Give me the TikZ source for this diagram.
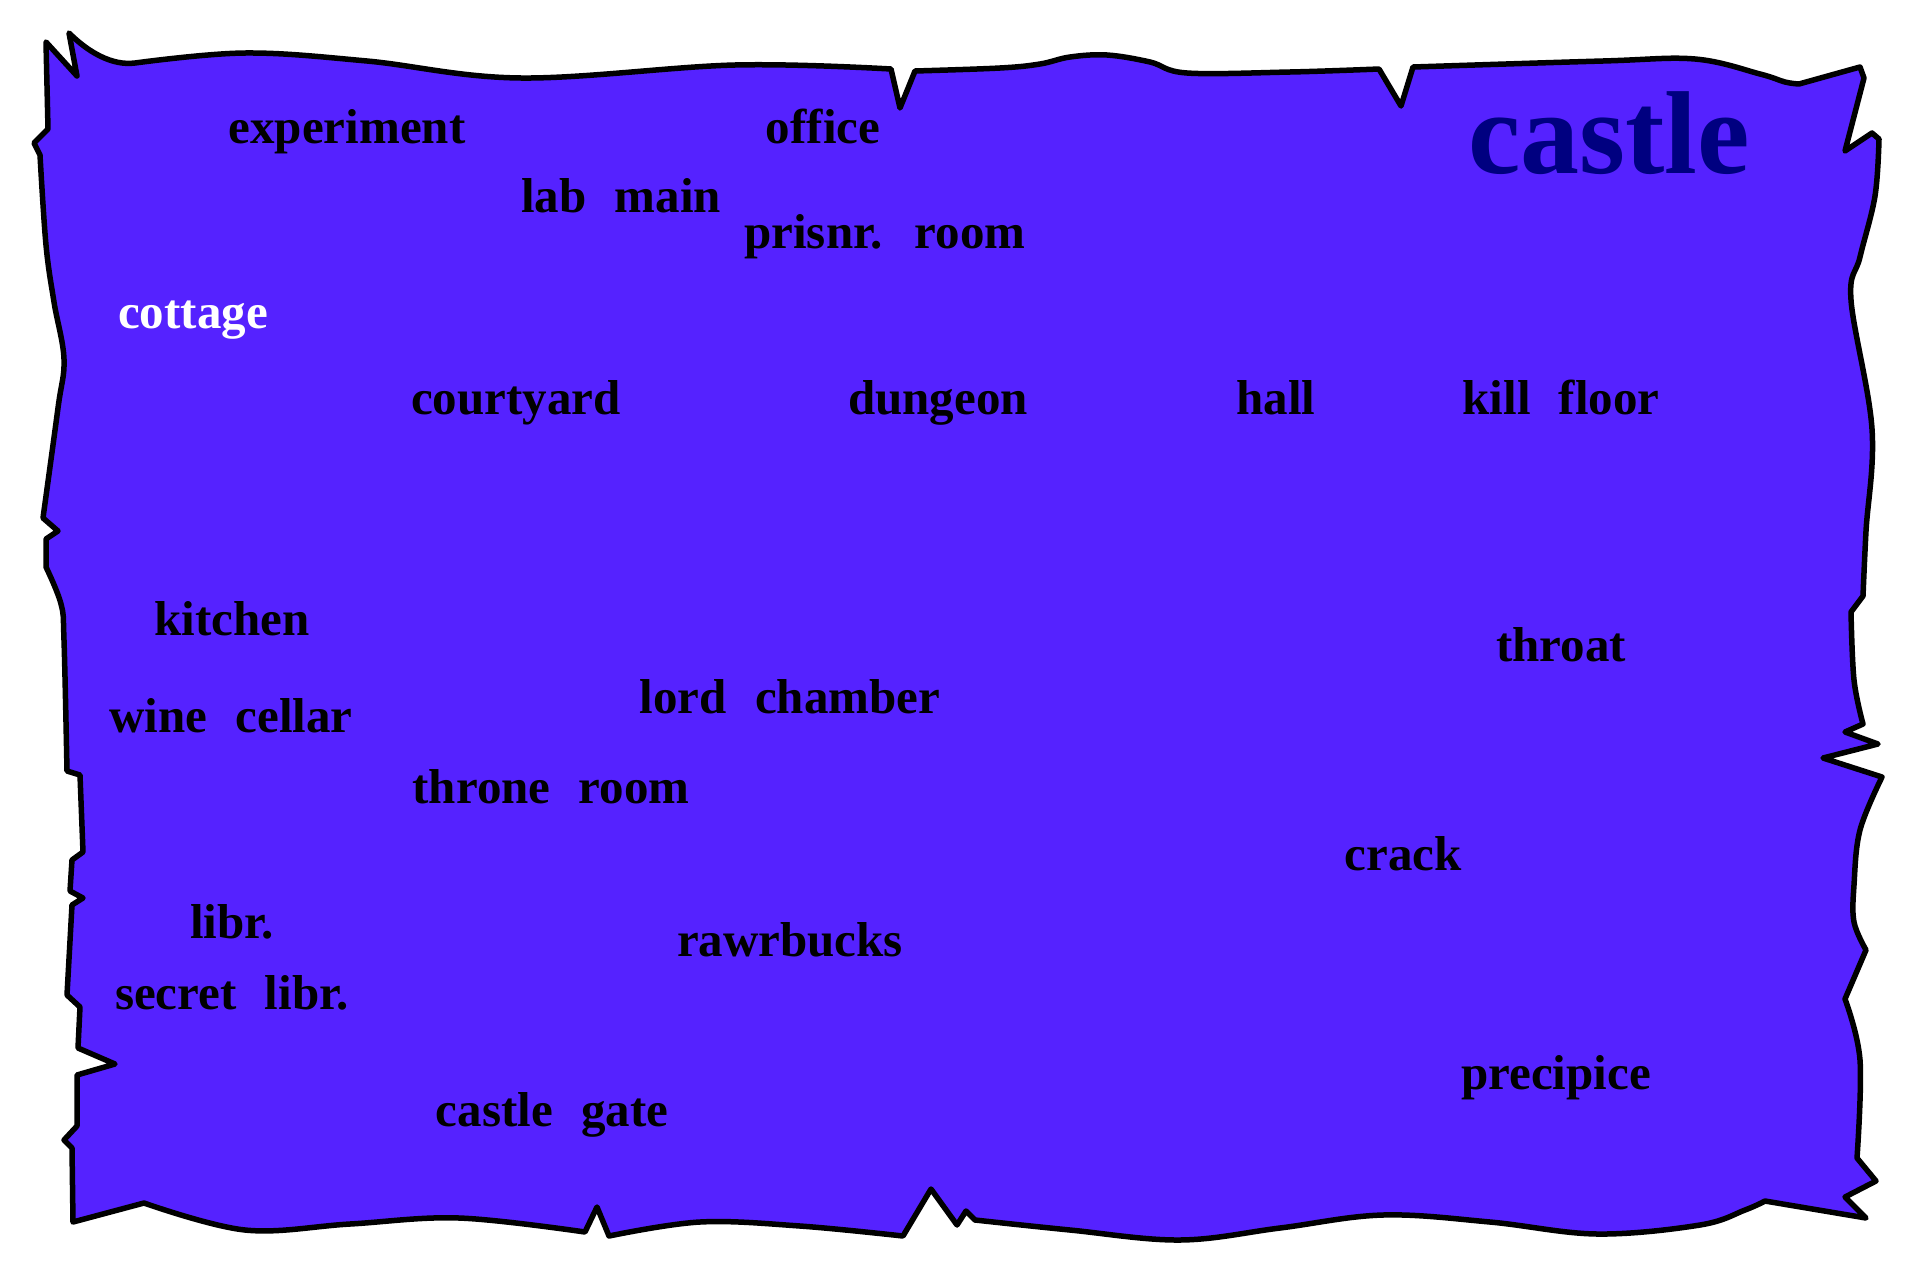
\documentclass[tikz,border=0pt]{standalone}
\usepackage{fontspec}
\setmainfont{Liberation Serif}[WordSpace=2.3]
\definecolor{mapfill}{RGB}{85,34,255}
\definecolor{titlenavy}{RGB}{0,0,128}
\begin{document}
\begin{tikzpicture}[x=1pt,y=-1pt,
  border/.style={draw=black,fill=mapfill,line width=5.5pt,line join=round,line cap=round},
  lbl/.style={font=\fontsize{49}{55}\selectfont\bfseries,text=black,anchor=base,inner sep=0pt},
  lblw/.style={lbl,text=white},
  titlelbl/.style={font=\fontsize{118}{130}\selectfont\bfseries,text=titlenavy,anchor=base,inner sep=0pt}]
\useasboundingbox (0,0) rectangle (1920,1280);
\fill[white] (0,0) rectangle (1920,1280);
% parchment outline
\draw[border] (46,42) -- (77,76) -- (69,33)
  .. controls (88,52) and (112,66) .. (135,63)
  -- plot[smooth,tension=0.6] coordinates {(135,63) (245,53) (367,61) (521,78) (735,65) (891,69)}
  -- (900,108) -- (915,71)
  -- plot[smooth,tension=0.6] coordinates {(915,71) (1000,68) (1040,64) (1070,57) (1107,55) (1150,62) (1187,73) (1290,72) (1379,69)}
  -- (1401,106) -- (1413,67)
  -- plot[smooth,tension=0.6] coordinates {(1413,67) (1603,61) (1695,59) (1760,74) (1785,82) (1799,84)}
  -- (1860,67) -- (1864,78) -- (1845,151) -- (1872,133) -- (1879,139)
  -- plot[smooth,tension=0.6] coordinates {(1879,139) (1875,196) (1860,257) (1851,300) (1872,429) (1866,531) (1863,596)}
  -- (1851,612)
  -- plot[smooth,tension=0.6] coordinates {(1851,612) (1854,680) (1863,724)}
  -- (1845,732) -- (1878,744) -- (1823,758) -- (1882,777)
  -- plot[smooth,tension=0.6] coordinates {(1882,777) (1860,830) (1854,885) (1854,922) (1866,950)}
  -- (1845,999)
  -- plot[smooth,tension=0.6] coordinates {(1845,999) (1860,1060) (1857,1158)}
  -- (1876,1181) -- (1845,1197) -- (1866,1218) -- (1765,1201)
  -- plot[smooth,tension=0.6] coordinates {(1765,1201) (1745,1210) (1700,1225) (1597,1234) (1490,1222) (1383,1215) (1280,1228) (1180,1240) (1070,1230) (975,1220)}
  -- (966,1211) -- (957,1225) -- (931,1189) -- (903,1236)
  -- plot[smooth,tension=0.6] coordinates {(903,1236) (800,1226) (700,1222) (609,1236)}
  -- (597,1207) -- (585,1232)
  -- plot[smooth,tension=0.6] coordinates {(585,1232) (459,1218) (350,1224) (245,1230) (144,1203)}
  -- (73,1222) -- (72,1148) -- (64,1140) -- (77,1126) -- (77,1075) -- (115,1064) -- (78,1048)
  -- (80,1007) -- (67,995) -- (72,905) -- (83,898) -- (70,891) -- (72,860) -- (83,852)
  -- (80,775) -- (67,771)
  -- plot[smooth,tension=0.6] coordinates {(67,771) (64,640) (61,604) (46,567)}
  -- (46,539) -- (58,531) -- (43,518)
  -- plot[smooth,tension=0.6] coordinates {(43,518) (58,408) (64,359) (54,302) (46,245) (40,155)}
  -- (34,143) -- (48,129) -- cycle;
% title
\node[titlelbl] (title) at (1609,173) {castle};
% labels
\node[lbl] (experiment) at (347,143) {experiment};
\node[lbl] (office) at (823,143) {office};
\node[lbl] (labmain) at (621,212) {lab main};
\node[lbl] (prisnr) at (885,248) {prisnr. room};
\node[lblw] (cottage) at (193,328) {cottage};
\node[lbl] (courtyard) at (516,414) {courtyard};
\node[lbl] (dungeon) at (938,414) {dungeon};
\node[lbl] (hall) at (1276,414) {hall};
\node[lbl] (killfloor) at (1561,414) {kill floor};
\node[lbl] (kitchen) at (232,635) {kitchen};
\node[lbl] (throat) at (1561,661) {throat};
\node[lbl] (lordchamber) at (790,713) {lord chamber};
\node[lbl] (winecellar) at (231,732) {wine cellar};
\node[lbl] (throneroom) at (551,803) {throne room};
\node[lbl] (crack) at (1403,870) {crack};
\node[lbl] (libr) at (232,938) {libr.};
\node[lbl] (rawrbucks) at (790,956) {rawrbucks};
\node[lbl] (secretlibr) at (232,1009) {secret libr.};
\node[lbl] (precipice) at (1556,1089) {precipice};
\node[lbl] (castlegate) at (552,1126) {castle gate};
\end{tikzpicture}
\end{document}
